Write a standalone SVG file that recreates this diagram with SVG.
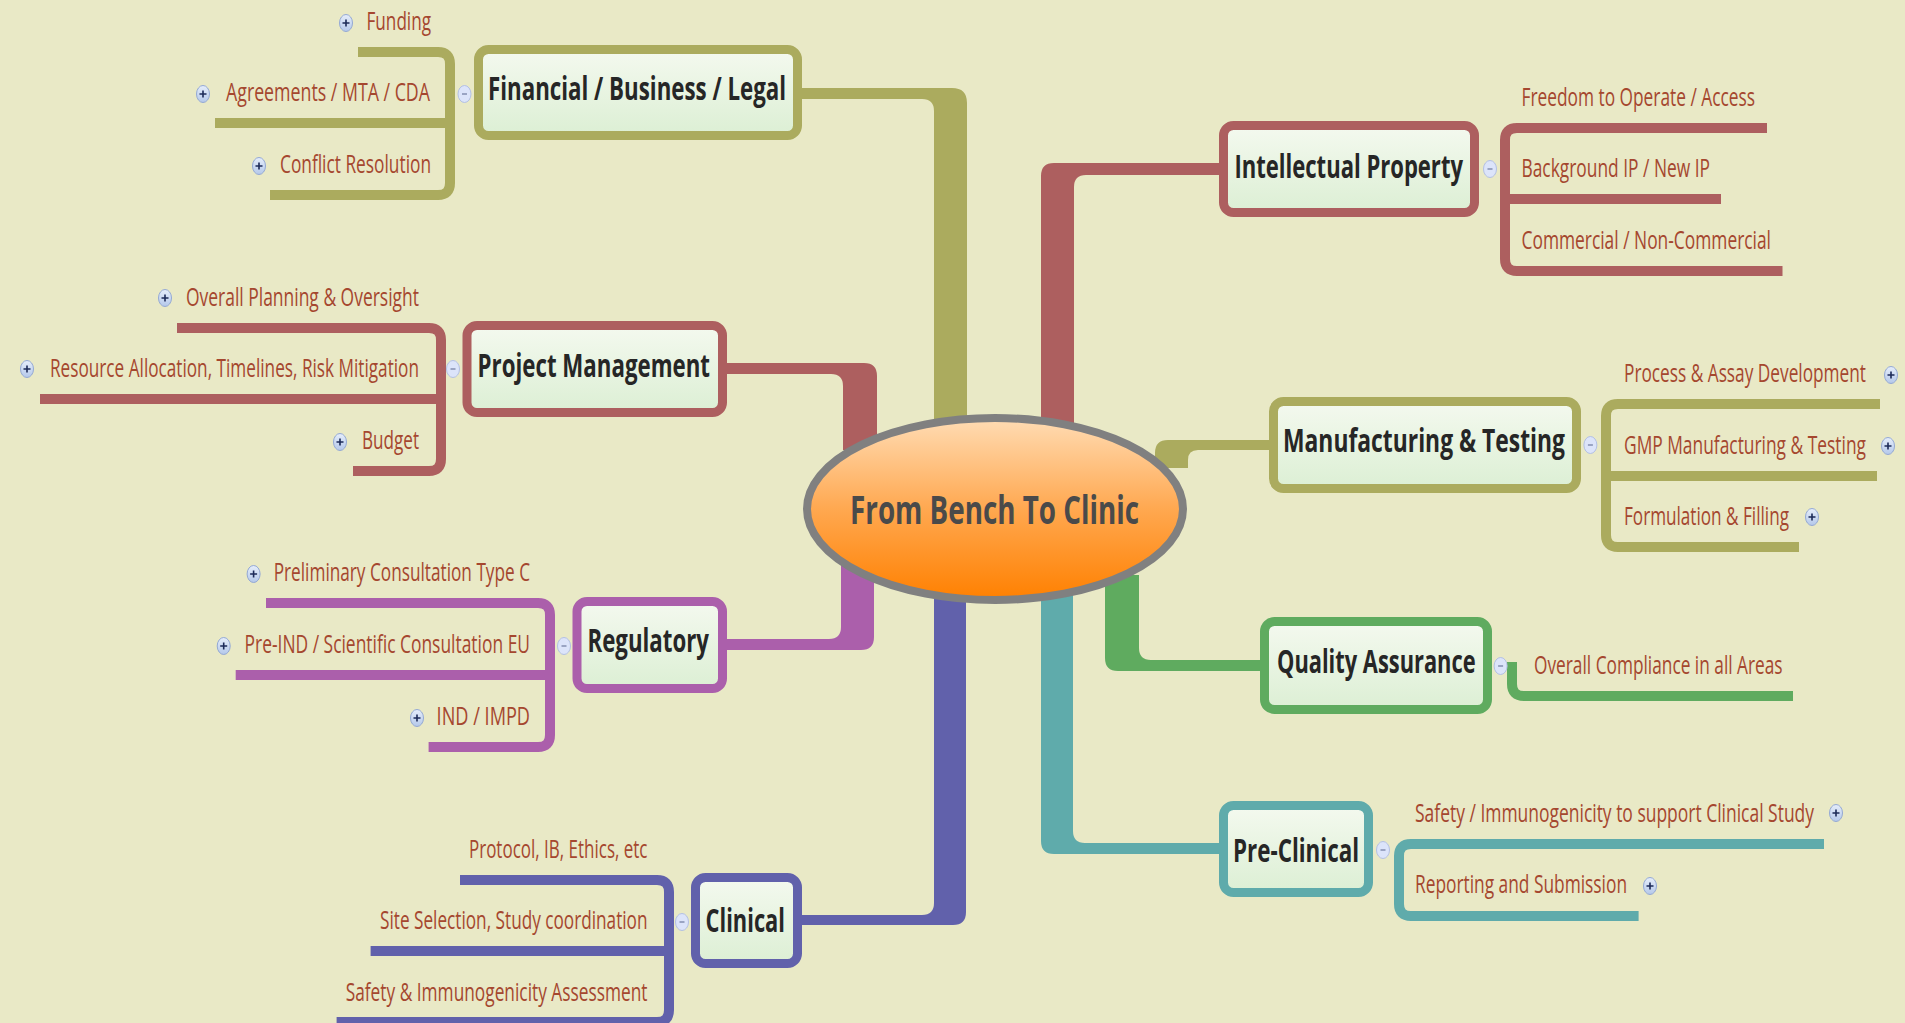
<svg xmlns="http://www.w3.org/2000/svg" width="1905" height="1023" viewBox="0 0 1905 1023">
<defs>
<linearGradient id="nodeFill" x1="0" y1="0" x2="0" y2="1"><stop offset="0" stop-color="#f4f9ef"/><stop offset="1" stop-color="#dcefd4"/></linearGradient>
<linearGradient id="centerFill" x1="0" y1="0" x2="0" y2="1"><stop offset="0" stop-color="#ffdcb4"/><stop offset="0.5" stop-color="#ffa850"/><stop offset="1" stop-color="#ff8000"/></linearGradient>
<linearGradient id="plusFill" x1="0" y1="0" x2="0" y2="1"><stop offset="0" stop-color="#e6eefb"/><stop offset="1" stop-color="#b4c8ea"/></linearGradient>
<g id="plus"><ellipse cx="0" cy="0" rx="6.5" ry="8.5" fill="url(#plusFill)" stroke="#93a8d4" stroke-width="1"/><path d="M-3.5 0H3.5M0 -3.5V3.5" stroke="#1c2a58" stroke-width="1.6"/></g>
<g id="minus"><ellipse cx="0" cy="0" rx="6.5" ry="8.5" fill="#dce4fa" stroke="#b3c0e4" stroke-width="1"/><path d="M-2.5 0H2.5" stroke="#7d89ab" stroke-width="1.4"/></g>
</defs>
<style>
.bg{fill:#e9e9c6}
.node{fill:url(#nodeFill);stroke-width:9}
.ntext{font-family:"Open Sans","Noto Sans","Liberation Sans",sans-serif;font-weight:bold;font-size:33px;fill:#262626}
.ctext{font-family:"Open Sans","Noto Sans","Liberation Sans",sans-serif;font-weight:bold;font-size:40px;fill:#4a4a4a}
.sub{font-family:"Open Sans","Noto Sans","Liberation Sans",sans-serif;font-size:25px;fill:#a5472f}
.br{fill:none;stroke-width:10}
.olive{stroke:#abab5e}.oliveF{fill:#abab5e}
.red{stroke:#ad5f5f}.redF{fill:#ad5f5f}
.purple{stroke:#ab5fab}.purpleF{fill:#ab5fab}
.blue{stroke:#6161ab}.blueF{fill:#6161ab}
.teal{stroke:#5fabab}.tealF{fill:#5fabab}
.green{stroke:#5fab5f}.greenF{fill:#5fab5f}
</style>
<rect class="bg" x="0" y="0" width="1905" height="1023"/>

<g id="connectors">
<path class="oliveF" d="M802 88 H952 Q967 88 967 103 V420 H934 V111 Q934 99 922 99 H802 Z"/>
<path class="redF" d="M727 363 H864 Q877 363 877 376 V450 H843 V386 Q843 374 831 374 H727 Z"/>
<path class="redF" d="M1220 163 H1054 Q1041 163 1041 176 V425 H1074 V187 Q1074 175 1086 175 H1220 Z"/>
<path class="oliveF" d="M1270 440 H1168 Q1155 440 1155 453 V468 H1188 V460 Q1188 450 1198 450 H1270 Z"/>
<path class="greenF" d="M1263 671 H1118 Q1105 671 1105 658 V575 H1139 V648 Q1139 660 1151 660 H1263 Z"/>
<path class="tealF" d="M1220 854 H1054 Q1041 854 1041 841 V595 H1073 V831 Q1073 843 1085 843 H1220 Z"/>
<path class="blueF" d="M800 925 H953 Q966 925 966 912 V595 H934 V903 Q934 915 922 915 H800 Z"/>
<path class="purpleF" d="M725 650 H861 Q874 650 874 637 V565 H841 V627 Q841 639 829 639 H725 Z"/>
</g>

<g id="center">
<ellipse cx="995" cy="509" rx="188" ry="91" fill="url(#centerFill)" stroke="#808080" stroke-width="8"/>
<text class="ctext" transform="translate(850,524) scale(0.6,1)" textLength="481.7" lengthAdjust="spacingAndGlyphs">From Bench To Clinic</text>
</g>

<g id="financial">
<rect class="node olive" x="478.5" y="49.5" width="319" height="86" rx="10"/>
<text class="ntext" transform="translate(488,100) scale(0.6,1)" textLength="496.7" lengthAdjust="spacingAndGlyphs">Financial / Business / Legal</text>
<path class="br olive" d="M358 52 H438 Q450 52 450 64 V183 Q450 195 438 195 H270 M215 123 H450"/>
<use href="#minus" x="464.5" y="94"/>
<text class="sub" transform="translate(366.5,30) scale(0.68,1)" textLength="94.9" lengthAdjust="spacingAndGlyphs">Funding</text>
<use href="#plus" x="346" y="23"/>
<text class="sub" transform="translate(226,101) scale(0.68,1)" textLength="300" lengthAdjust="spacingAndGlyphs">Agreements / MTA / CDA</text>
<use href="#plus" x="203" y="94"/>
<text class="sub" transform="translate(280,173) scale(0.68,1)" textLength="222.1" lengthAdjust="spacingAndGlyphs">Conflict Resolution</text>
<use href="#plus" x="259" y="166"/>
</g>

<g id="project-management">
<rect class="node red" x="467" y="325.5" width="255.5" height="87" rx="10"/>
<text class="ntext" transform="translate(477.6,377) scale(0.6,1)" textLength="387.3" lengthAdjust="spacingAndGlyphs">Project Management</text>
<path class="br red" d="M177 328 H429 Q441 328 441 340 V459 Q441 471 429 471 H353 M40 399 H441"/>
<use href="#minus" x="453" y="369"/>
<text class="sub" transform="translate(186,306) scale(0.68,1)" textLength="342.6" lengthAdjust="spacingAndGlyphs">Overall Planning &amp; Oversight</text>
<use href="#plus" x="165" y="298"/>
<text class="sub" transform="translate(50,377) scale(0.68,1)" textLength="542.6" lengthAdjust="spacingAndGlyphs">Resource Allocation, Timelines, Risk Mitigation</text>
<use href="#plus" x="27" y="369"/>
<text class="sub" transform="translate(362,449) scale(0.68,1)" textLength="83.8" lengthAdjust="spacingAndGlyphs">Budget</text>
<use href="#plus" x="340" y="442"/>
</g>

<g id="regulatory">
<rect class="node purple" x="577" y="601.5" width="145.5" height="87" rx="10"/>
<text class="ntext" transform="translate(587.5,652) scale(0.6,1)" textLength="202.5" lengthAdjust="spacingAndGlyphs">Regulatory</text>
<path class="br purple" d="M266 603 H538 Q550 603 550 615 V735 Q550 747 538 747 H428.6 M235.7 675 H550"/>
<use href="#minus" x="564" y="646"/>
<text class="sub" transform="translate(273.7,581) scale(0.68,1)" textLength="376.9" lengthAdjust="spacingAndGlyphs">Preliminary Consultation Type C</text>
<use href="#plus" x="253.6" y="574"/>
<text class="sub" transform="translate(244.6,653) scale(0.68,1)" textLength="419.7" lengthAdjust="spacingAndGlyphs">Pre-IND / Scientific Consultation EU</text>
<use href="#plus" x="223.7" y="646"/>
<text class="sub" transform="translate(436.6,725) scale(0.68,1)" textLength="137.4" lengthAdjust="spacingAndGlyphs">IND / IMPD</text>
<use href="#plus" x="417" y="718"/>
</g>

<g id="clinical">
<rect class="node blue" x="695.5" y="877.5" width="102" height="86" rx="10"/>
<text class="ntext" transform="translate(705.6,932) scale(0.6,1)" textLength="132.3" lengthAdjust="spacingAndGlyphs">Clinical</text>
<path class="br blue" d="M460 880 H657 Q669 880 669 892 V1010 Q669 1022 657 1022 H336.6 M370.6 951 H669"/>
<use href="#minus" x="682" y="922"/>
<text class="sub" transform="translate(469,858) scale(0.68,1)" textLength="262.5" lengthAdjust="spacingAndGlyphs">Protocol, IB, Ethics, etc</text>
<text class="sub" transform="translate(380,929) scale(0.68,1)" textLength="393.4" lengthAdjust="spacingAndGlyphs">Site Selection, Study coordination</text>
<text class="sub" transform="translate(345.7,1001) scale(0.68,1)" textLength="443.8" lengthAdjust="spacingAndGlyphs">Safety &amp; Immunogenicity Assessment</text>
</g>

<g id="intellectual-property">
<rect class="node red" x="1223.5" y="125.5" width="251" height="87" rx="10"/>
<text class="ntext" transform="translate(1234.4,178) scale(0.6,1)" textLength="381" lengthAdjust="spacingAndGlyphs">Intellectual Property</text>
<path class="br red" d="M1767 128 H1517 Q1505 128 1505 140 V259 Q1505 271 1517 271 H1782.5 M1721 199 H1505"/>
<use href="#minus" x="1490" y="169"/>
<text class="sub" transform="translate(1521.5,106) scale(0.68,1)" textLength="343.4" lengthAdjust="spacingAndGlyphs">Freedom to Operate / Access</text>
<text class="sub" transform="translate(1521.5,177) scale(0.68,1)" textLength="277.2" lengthAdjust="spacingAndGlyphs">Background IP / New IP</text>
<text class="sub" transform="translate(1521.5,249) scale(0.68,1)" textLength="366.9" lengthAdjust="spacingAndGlyphs">Commercial / Non-Commercial</text>
</g>

<g id="manufacturing-testing">
<rect class="node olive" x="1273.5" y="401.5" width="303" height="87" rx="10"/>
<text class="ntext" transform="translate(1283,452) scale(0.6,1)" textLength="470" lengthAdjust="spacingAndGlyphs">Manufacturing &amp; Testing</text>
<path class="br olive" d="M1880 404 H1618 Q1606 404 1606 416 V535 Q1606 547 1618 547 H1799 M1877 476 H1606"/>
<use href="#minus" x="1590.4" y="445"/>
<text class="sub" transform="translate(1624,382) scale(0.68,1)" textLength="355.9" lengthAdjust="spacingAndGlyphs">Process &amp; Assay Development</text>
<use href="#plus" x="1891" y="375"/>
<text class="sub" transform="translate(1624,454) scale(0.68,1)" textLength="355.9" lengthAdjust="spacingAndGlyphs">GMP Manufacturing &amp; Testing</text>
<use href="#plus" x="1888" y="446"/>
<text class="sub" transform="translate(1624,525) scale(0.68,1)" textLength="242.6" lengthAdjust="spacingAndGlyphs">Formulation &amp; Filling</text>
<use href="#plus" x="1812" y="517"/>
</g>

<g id="quality-assurance">
<rect class="node green" x="1264.5" y="621.5" width="223" height="88" rx="10"/>
<text class="ntext" transform="translate(1277,673) scale(0.6,1)" textLength="331" lengthAdjust="spacingAndGlyphs">Quality Assurance</text>
<path class="br green" d="M1512 662 V684 Q1512 696 1524 696 H1793"/>
<use href="#minus" x="1500.6" y="666"/>
<text class="sub" transform="translate(1534,674) scale(0.68,1)" textLength="365.6" lengthAdjust="spacingAndGlyphs">Overall Compliance in all Areas</text>
</g>

<g id="pre-clinical">
<rect class="node teal" x="1223.5" y="805.5" width="145" height="87" rx="10"/>
<text class="ntext" transform="translate(1233,862) scale(0.6,1)" textLength="210" lengthAdjust="spacingAndGlyphs">Pre-Clinical</text>
<path class="br teal" d="M1824 844 H1411 Q1399 844 1399 856 V904 Q1399 916 1411 916 H1638.6"/>
<use href="#minus" x="1383" y="850"/>
<text class="sub" transform="translate(1415,822) scale(0.68,1)" textLength="586.8" lengthAdjust="spacingAndGlyphs">Safety / Immunogenicity to support Clinical Study</text>
<use href="#plus" x="1836" y="813"/>
<text class="sub" transform="translate(1415,893) scale(0.68,1)" textLength="311.8" lengthAdjust="spacingAndGlyphs">Reporting and Submission</text>
<use href="#plus" x="1650" y="886"/>
</g>
</svg>
